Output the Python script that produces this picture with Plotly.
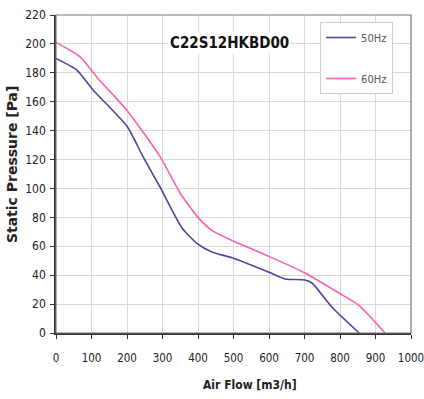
import plotly.graph_objects as go

flow_50 = [0, 58, 105, 200, 245, 293, 355, 397, 439, 496, 600, 645, 701, 721, 777, 854]
pres_50 = [190, 182, 168, 143, 122, 101, 72.7, 62, 56, 52, 42, 37.4, 36.7, 34.6, 18, 0]
flow_60 = [0, 68, 115, 200, 293, 349, 363, 400, 439, 496, 600, 701, 797, 854, 927]
pres_60 = [201, 191, 177, 154, 122, 97, 92, 80, 71, 64, 53, 41.5, 27.7, 19, 0]
x_ticks = [0, 100, 200, 300, 400, 500, 600, 700, 800, 900, 1000]
y_ticks = [0, 20, 40, 60, 80, 100, 120, 140, 160, 180, 200, 220]
title_text = "C22S12HKBD00"
x_title = "Air Flow [m3/h]"
y_title = "Static Pressure [Pa]"

fig = go.Figure()
fig.add_trace(go.Scatter(x=flow_50, y=pres_50, mode="lines", name="50Hz", legendgroup="a",
                         line=dict(color="#48489e", width=1.6, shape="spline", smoothing=0.6)))
fig.add_trace(go.Scatter(x=flow_60, y=pres_60, mode="lines", name="60Hz", legendgroup="b",
                         line=dict(color="#ff5fae", width=1.6, shape="spline", smoothing=0.6)))

font_narrow = "DejaVu Sans Condensed, Liberation Sans Narrow, Arial Narrow, Liberation Sans"
fig.update_layout(
    width=424, height=399,
    margin=dict(l=56, r=13, t=15, b=66, autoexpand=False),
    paper_bgcolor="white", plot_bgcolor="white",
    showlegend=True,
    legend=dict(x=0.744, y=0.978, xanchor="left", yanchor="top",
                bgcolor="white", bordercolor="#cccccc", borderwidth=1,
                font=dict(family=font_narrow, size=11, color="#555555"),
                itemwidth=30, tracegroupgap=22),
    xaxis=dict(range=[0, 1000], tickvals=x_ticks, ticks="outside", ticklen=4,
               tickcolor="#333", showline=True, linecolor="#333", linewidth=1.5,
               mirror=False, showgrid=True, gridcolor="#d9d9d9", gridwidth=1,
               zeroline=False, automargin=False, ticklabeloverflow="allow",
               ticklabelstandoff=9,
               tickfont=dict(family=font_narrow, size=11.5, color="#222")),
    yaxis=dict(range=[0, 220], tickvals=y_ticks, ticks="outside", ticklen=4,
               tickcolor="#333", showline=True, linecolor="#333", linewidth=1.5,
               showgrid=True, gridcolor="#d9d9d9", gridwidth=1, zeroline=False,
               automargin=False, ticklabeloverflow="allow", ticklabelstandoff=2,
               tickfont=dict(family=font_narrow, size=12, color="#222")),
    shapes=[dict(type="rect", xref="paper", yref="paper", x0=0, y0=0, x1=1, y1=1,
                 line=dict(color="#777", width=1.2), fillcolor="rgba(0,0,0,0)")],
    annotations=[
        dict(text="<b>" + title_text + "</b>", x=0.49, y=0.912, xref="paper", yref="paper",
             showarrow=False, bgcolor="white", yanchor="middle",
             font=dict(family=font_narrow, size=15, color="#111")),
        dict(text="<b>" + x_title + "</b>", x=0.546, y=-0.164, xref="paper", yref="paper",
             showarrow=False, xanchor="center", yanchor="middle",
             font=dict(family=font_narrow, size=12, color="#222")),
        dict(text="<b>" + y_title + "</b>", x=-0.124, y=0.531, xref="paper", yref="paper",
             showarrow=False, xanchor="center", yanchor="middle", textangle=-90,
             font=dict(family="DejaVu Sans, Liberation Sans", size=14, color="#222")),
    ],
)
fig.write_html("out.html", config={"displayModeBar": False},
               post_script="document.body.style.margin='0px';document.body.style.overflow='hidden';")
